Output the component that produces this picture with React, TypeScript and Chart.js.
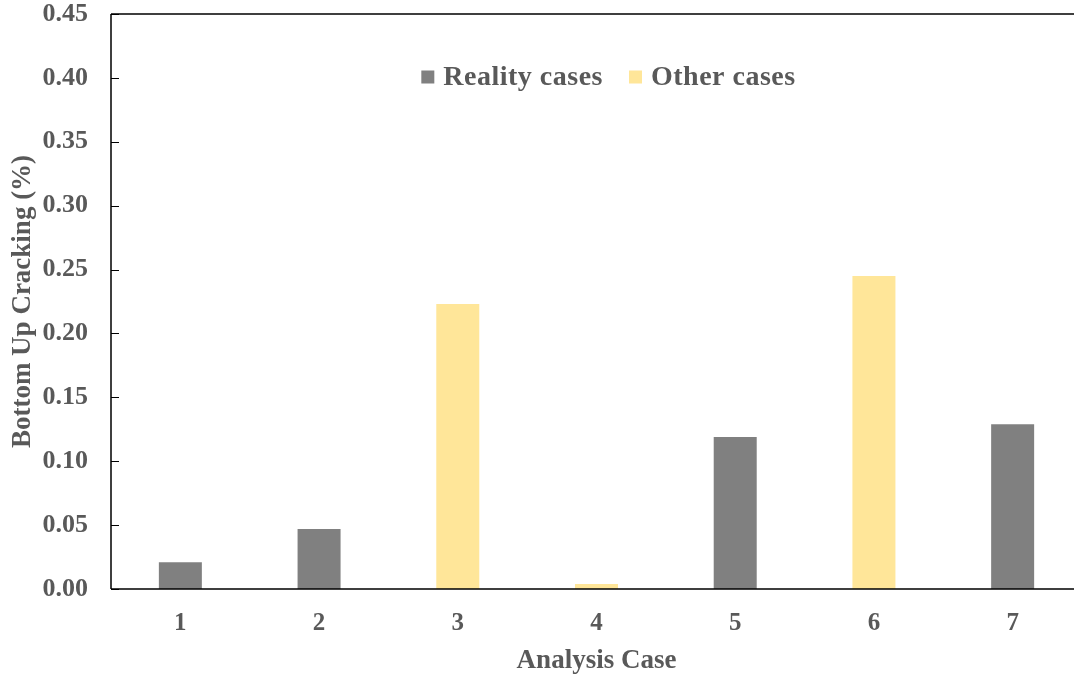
import React, { useEffect, useRef } from "react";
import { Chart, registerables } from "chart.js";

Chart.register(...registerables);

const categories = ["1", "2", "3", "4", "5", "6", "7"];
const realityValues = [0.021, 0.047, null, null, 0.119, null, 0.129];
const otherValues = [null, null, 0.223, 0.004, null, 0.245, null];
const yTicks = [0, 0.05, 0.1, 0.15, 0.2, 0.25, 0.3, 0.35, 0.4, 0.45];

const FONT = "'Liberation Serif', 'Times New Roman', serif";
const TEXT = "#595959";

const framePlugin = {
  id: "frame",
  afterDraw(chart: any) {
    const { ctx, chartArea } = chart;
    const y = chart.scales.y;
    ctx.save();
    ctx.strokeStyle = "#000";
    ctx.lineWidth = 1.5;
    ctx.beginPath();
    ctx.moveTo(chartArea.left, chartArea.top);
    ctx.lineTo(chartArea.right + 20, chartArea.top);
    ctx.moveTo(chartArea.left, chartArea.top);
    ctx.lineTo(chartArea.left, chartArea.bottom);
    ctx.moveTo(chartArea.left, chartArea.bottom);
    ctx.lineTo(chartArea.right + 20, chartArea.bottom);
    ctx.stroke();
    ctx.lineWidth = 1;
    ctx.beginPath();
    y.ticks.forEach((t: any) => {
      const py = Math.round(y.getPixelForValue(t.value)) + 0.5;
      ctx.moveTo(chartArea.left, py);
      ctx.lineTo(chartArea.left + 8, py);
    });
    ctx.stroke();

    // legend inside plot
    const items = chart.data.datasets.map((d: any) => ({ label: d.label, color: d.backgroundColor }));
    ctx.font = `bold 28px ${FONT}`;
    (ctx as any).letterSpacing = "0.5px";
    ctx.textBaseline = "middle";
    const box = 13;
    const gapBox = 9;
    const gapItem = 26;
    const widths = items.map((it: any) => box + gapBox + ctx.measureText(it.label).width);
    const total = widths.reduce((a: number, b: number) => a + b, 0) + gapItem * (items.length - 1);
    let x = (chartArea.left + chartArea.right) / 2 + 12 - total / 2;
    const ly = chartArea.top + 63;
    items.forEach((it: any, i: number) => {
      ctx.fillStyle = it.color;
      ctx.fillRect(x, ly - box / 2, box, box);
      ctx.fillStyle = TEXT;
      ctx.textAlign = "left";
      ctx.fillText(it.label, x + box + gapBox, ly + 1);
      x += widths[i] + gapItem;
    });
    ctx.restore();
  },
};

export default function App() {
  const ref = useRef<HTMLCanvasElement>(null);
  useEffect(() => {
    const chart = new Chart(ref.current!, {
      type: "bar",
      data: {
        labels: categories,
        datasets: [
          {
            label: "Reality cases",
            data: realityValues,
            backgroundColor: "#808080",
            grouped: false,
            categoryPercentage: 1,
            barPercentage: 0.31,
          } as any,
          {
            label: "Other cases",
            data: otherValues,
            backgroundColor: "#FFE699",
            grouped: false,
            categoryPercentage: 1,
            barPercentage: 0.31,
          } as any,
        ],
      },
      options: {
        animation: false,
        responsive: false,
        maintainAspectRatio: false,
        layout: { padding: { top: 0, right: 10, left: 0, bottom: 0 } },
        plugins: { legend: { display: false }, tooltip: { enabled: false } },
        scales: {
          x: {
            grid: { display: false, drawTicks: false },
            border: { display: false },
            ticks: { color: TEXT, font: { family: FONT, size: 25, weight: "bold" }, padding: 20 },
            title: {
              display: true,
              text: "Analysis Case",
              color: TEXT,
              font: { family: FONT, size: 27, weight: "bold" },
              padding: { top: 8, bottom: -3 },
            },
            afterFit: (s: any) => {
              s.height = 85;
            },
          },
          y: {
            min: 0,
            max: 0.45,
            afterBuildTicks: (s: any) => {
              s.ticks = yTicks.map((v) => ({ value: v }));
            },
            grid: { display: false, drawTicks: false },
            border: { display: false },
            ticks: {
              color: TEXT,
              font: { family: FONT, size: 26, weight: "bold" },
              padding: 23,
              callback: (v: any) => Number(v).toFixed(2),
            },
            title: {
              display: true,
              text: "Bottom Up Cracking (%)",
              color: TEXT,
              font: { family: FONT, size: 27, weight: "bold" },
              padding: { top: 7, bottom: 0 },
            },
            afterFit: (s: any) => {
              s.width = 111;
              s.paddingTop = 14;
            },
          },
        },
      },
      plugins: [framePlugin],
    });
    return () => chart.destroy();
  }, []);
  return (
    <div style={{ position: "fixed", left: 0, top: 0, width: 1074, height: 674, overflow: "hidden", background: "#fff" }}>
      <canvas ref={ref} width={1092} height={674} style={{ display: "block" }} />
    </div>
  );
}
